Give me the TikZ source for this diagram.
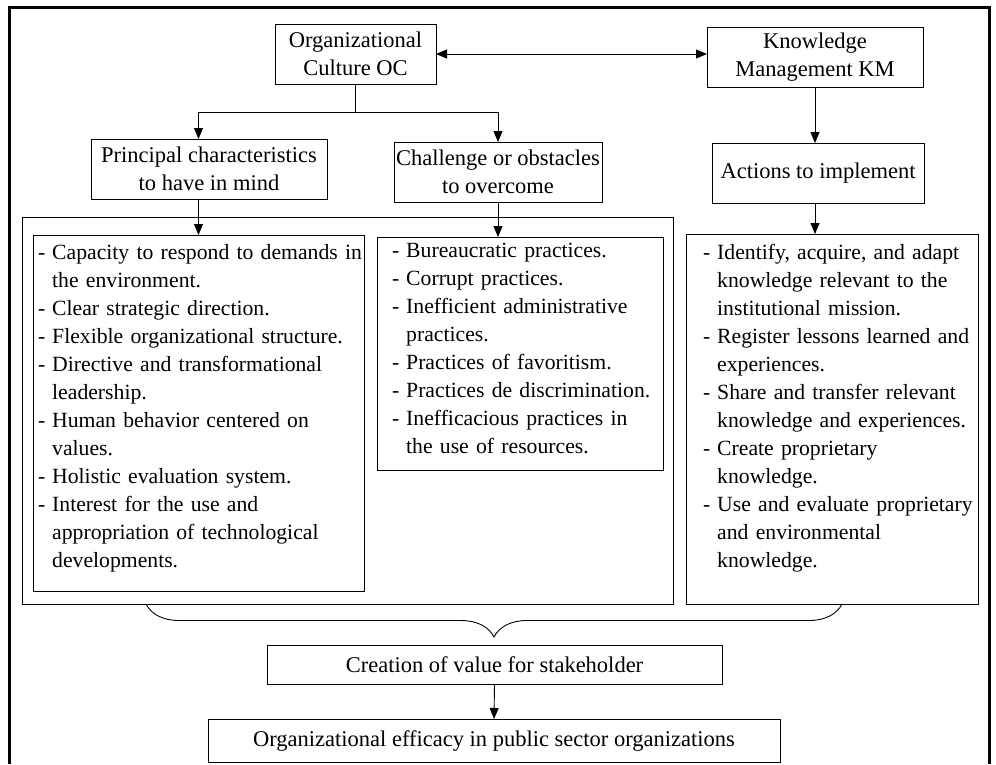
\documentclass[tikz,border=0pt]{standalone}
\usepackage{fontspec}
\setmainfont{Liberation Serif}
\usetikzlibrary{arrows.meta,decorations.pathreplacing}
\newcommand{\dashitem}{\makebox[14pt][l]{-}}
\newcommand{\contline}{\hspace*{14pt}}
\begin{document}
\begin{tikzpicture}[x=1pt,y=-1pt,
		every node/.style={font=\fontsize{22.5}{28}\selectfont},
		headbox/.style={draw, line width=0.9pt, align=center, anchor=north west, inner sep=0pt, outer sep=0pt},
		framebox/.style={draw, line width=0.9pt, anchor=north west, inner sep=0pt, outer sep=0pt},
		listtext/.style={anchor=base west, inner sep=0pt, text width=400pt, align=left, font=\fontsize{21.7}{28}\selectfont},
		arr/.style={line width=0.9pt, -{Triangle[length=11pt,width=9pt]}},
		biarr/.style={line width=0.9pt, {Triangle[length=11pt,width=9pt]}-{Triangle[length=11pt,width=9pt]}}]
				\useasboundingbox (0,0) rectangle (996,764);
				\draw[line width=3pt] (9,764) -- (9,7.5) -- (989,7.5) -- (989,764);
				% top level
				\node[headbox, minimum width=161pt, minimum height=60pt] (oc) at (275,24) {Organizational\\Culture OC};
				\node[headbox, minimum width=216pt, minimum height=60pt] (km) at (707,27) {Knowledge\\Management KM};
				\node[headbox, minimum width=236pt, minimum height=60pt] (pc) at (91,139) {Principal characteristics\\to have in mind};
				\node[headbox, minimum width=208pt, minimum height=60pt] (co) at (394,142) {Challenge or obstacles\\to overcome};
				\node[headbox, minimum width=212pt, minimum height=60pt] (act) at (712,143) {Actions to implement};
				% list boxes
				\node[framebox, minimum width=651pt, minimum height=387pt] (ocframe) at (22,217) {};
				\node[framebox, minimum width=331pt, minimum height=356pt] (pcl) at (33,235) {};
				\node[framebox, minimum width=286pt, minimum height=233pt] (col) at (377,237) {};
				\node[framebox, minimum width=292pt, minimum height=370pt] (actl) at (686,234) {};
				\node[listtext] (pctext) at (38,259) {\dashitem Capacity to respond to demands in\\
					\contline the environment.\\
					\dashitem Clear strategic direction.\\
					\dashitem Flexible organizational structure.\\
					\dashitem Directive and transformational\\
					\contline leadership.\\
					\dashitem Human behavior centered on\\
					\contline values.\\
					\dashitem Holistic evaluation system.\\
					\dashitem Interest for the use and\\
					\contline appropriation of technological\\
					\contline developments.};
				\node[listtext] (cotext) at (392,257) {\dashitem Bureaucratic practices.\\
					\dashitem Corrupt practices.\\
					\dashitem Inefficient administrative\\
					\contline practices.\\
					\dashitem Practices of favoritism.\\
					\dashitem Practices de discrimination.\\
					\dashitem Inefficacious practices in\\
					\contline the use of resources.};
				\node[listtext] (acttext) at (703,259) {\dashitem Identify, acquire, and adapt\\
					\contline knowledge relevant to the\\
					\contline institutional mission.\\
					\dashitem Register lessons learned and\\
					\contline experiences.\\
					\dashitem Share and transfer relevant\\
					\contline knowledge and experiences.\\
					\dashitem Create proprietary\\
					\contline knowledge.\\
					\dashitem Use and evaluate proprietary\\
					\contline and environmental\\
					\contline knowledge.};
				% bottom
				\node[headbox, minimum width=455pt, minimum height=39pt] (cre) at (267,645) {Creation of value for stakeholder};
				\node[headbox, minimum width=572pt, minimum height=43pt] (eff) at (208,719) {Organizational efficacy in public sector organizations};
				% connectors
				\coordinate (split) at ([yshift=-28pt]oc.south);
				\draw[line width=0.9pt] (oc.south) -- (split);
				\draw[arr] (split) -| (pcl.north |- pc.north);
				\draw[arr] (split) -| (co.north);
				\draw[arr] (pcl.north |- pc.south) -- (pcl.north);
				\draw[arr] (co.south) -- (co.south |- col.north);
				\draw[biarr] (oc.east) -- (oc.east -| km.west);
				\draw[arr] (km.south) -- (km.south |- act.north);
				\draw[arr] (km.south |- act.south) -- (km.south |- actl.north);
				\coordinate (bracel) at (146,604);
				\coordinate (bracer) at (842,604);
				\draw[line width=0.9pt, decorate, decoration={brace, mirror, amplitude=33pt}] (bracel) -- (bracer);
				\draw[arr] (cre.south) -- (eff.north);
			\end{tikzpicture}
\end{document}
